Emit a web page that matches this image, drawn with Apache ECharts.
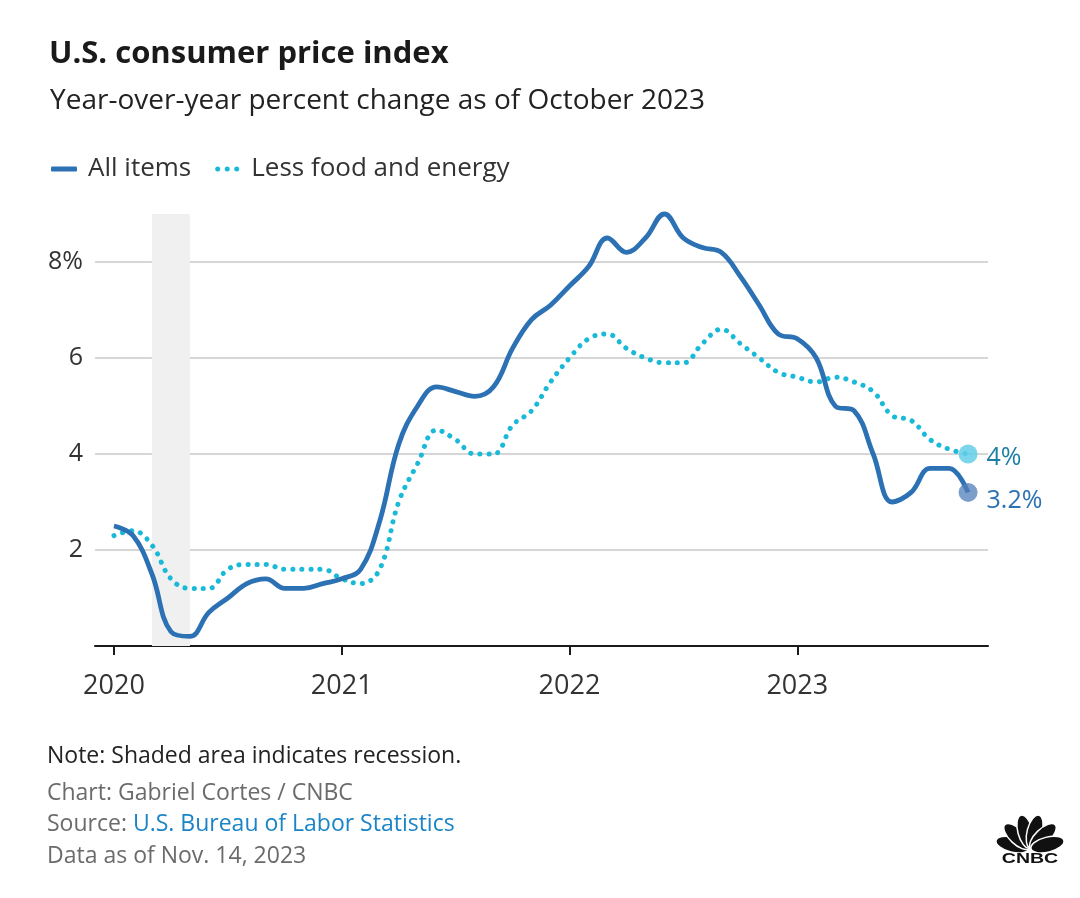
<!DOCTYPE html>
<html>
<head>
<meta charset="utf-8">
<title>U.S. consumer price index</title>
<script src="https://cdn.jsdelivr.net/npm/echarts@6/dist/echarts.min.js"></script>
<style>
  html, body { margin: 0; padding: 0; background: #fff; }
  #chart { width: 1080px; height: 898px; }
</style>
</head>
<body>
<div id="chart"></div>
<script>
// CPI year-over-year change, monthly Jan 2020 .. Oct 2023
// x is months since Jan 2020

const startYear = 2020;
const yearTicks = [2020, 2021, 2022, 2023];
const yTicks = [2, 4, 6, 8];

const allItems = [
    2.5, 2.3, 1.5, 0.3, 0.2, 0.7, 1.0, 1.3, 1.4, 1.2, 1.2, 1.3,
    1.4, 1.6, 2.6, 4.2, 5.0, 5.4, 5.3, 5.2, 5.4, 6.2, 6.8, 7.1,
    7.5, 7.9, 8.5, 8.2, 8.5, 9.0, 8.5, 8.3, 8.2, 7.7, 7.1, 6.5,
    6.4, 6.0, 5.0, 4.9, 4.0, 3.0, 3.2, 3.7, 3.7, 3.2
];

const lessFoodEnergy = [
    2.3, 2.4, 2.1, 1.4, 1.2, 1.2, 1.6, 1.7, 1.7, 1.6, 1.6, 1.6,
    1.4, 1.3, 1.6, 3.0, 3.8, 4.5, 4.3, 4.0, 4.0, 4.6, 4.9, 5.5,
    6.0, 6.4, 6.5, 6.2, 6.0, 5.9, 5.9, 6.3, 6.6, 6.3, 6.0, 5.7,
    5.6, 5.5, 5.6, 5.5, 5.3, 4.8, 4.7, 4.3, 4.1, 4.0
];

// recession shading, Mar 2020 .. May 2020 (month index)
const recession = [2, 4];

const fontFamily = 'Open Sans';

function monthIndex(year) {
    return (year - startYear) * 12;
}

// Turn a list of monthly values into [month, value] pairs; mark the last one
function toSeriesData(values, dotColor, labelText, labelColor, labelDy) {
    return values.map((v, i) => {
        if (i < values.length - 1) return [i, v];
        return {
            value: [i, v],
            symbol: 'circle',
            symbolSize: 19,
            itemStyle: { color: dotColor },
            label: {
                show: true,
                position: 'right',
                distance: 9,
                offset: [0, labelDy],
                formatter: labelText,
                fontSize: 25,
                color: labelColor,
                fontFamily: fontFamily
            }
        };
    });
}

const chart = echarts.init(document.getElementById('chart'));

const tickValues = yearTicks.map(monthIndex);

// three dots for the core legend icon
const dotsIcon = 'path://M0,2.5a2.5,2.5 0 1,0 5,0a2.5,2.5 0 1,0 -5,0Z' +
    'M9.5,2.5a2.5,2.5 0 1,0 5,0a2.5,2.5 0 1,0 -5,0Z' +
    'M19,2.5a2.5,2.5 0 1,0 5,0a2.5,2.5 0 1,0 -5,0Z';

// peacock feathers for the logo
const featherAngles = [-76, -46, -15, 15, 46, 76];

const option = {
    backgroundColor: '#ffffff',
    animation: false,
    textStyle: { fontFamily: fontFamily },
    title: [
        {
            text: 'U.S. consumer price index',
            left: 44,
            top: 34,
            textStyle: { fontSize: 31, fontWeight: 'bold', color: '#1a1a1a', fontFamily: fontFamily }
        },
        {
            text: 'Year-over-year percent change as of October 2023',
            left: 45,
            top: 82,
            textStyle: { fontSize: 28, fontWeight: 'normal', color: '#222', fontFamily: fontFamily }
        }
    ],
    legend: {
        left: 46,
        top: 151,
        itemWidth: 26,
        itemHeight: 5,
        itemGap: 24,
        textStyle: { fontSize: 26, color: '#333', fontFamily: fontFamily, padding: [0, 0, 0, 6] },
        data: [
            { name: 'All items', icon: 'roundRect', itemStyle: { color: '#2c71b3' } },
            { name: 'Less food and energy', icon: dotsIcon, itemStyle: { color: '#19b9d8' } }
        ]
    },
    grid: {
        left: 95,
        right: 92,
        top: 166,
        bottom: 252,
        containLabel: false
    },
    xAxis: {
        type: 'value',
        min: -1,
        max: 46.05,
        axisLine: { show: true, onZero: false, lineStyle: { color: '#1a1a1a', width: 2 } },
        axisTick: {
            show: true,
            length: 9,
            lineStyle: { color: '#1a1a1a', width: 2 },
            customValues: tickValues
        },
        axisLabel: {
            fontSize: 27,
            color: '#333',
            margin: 27,
            customValues: tickValues,
            formatter: v => String(startYear + Math.round(v / 12))
        },
        splitLine: { show: false }
    },
    yAxis: {
        type: 'value',
        min: 0,
        max: 10,
        interval: 2,
        axisLine: { show: false },
        axisTick: { show: false },
        axisLabel: {
            fontSize: 25,
            color: '#333',
            margin: 12,
            formatter: v => {
                if (!yTicks.includes(v)) return '';
                return v === 8 ? '8%' : String(v);
            }
        },
        splitLine: {
            show: true,
            lineStyle: {
                color: ['transparent', '#d6d6d6', '#d6d6d6', '#d6d6d6', '#d6d6d6', 'transparent'],
                width: 2
            }
        }
    },
    series: [
        {
            name: 'Less food and energy',
            type: 'line',
            smooth: 0.4,
            showSymbol: true,
            symbol: 'none',
            color: '#19b9d8',
            lineStyle: { color: '#19b9d8', width: 5, type: [0.1, 9], cap: 'round' },
            data: toSeriesData(lessFoodEnergy, 'rgba(100, 206, 232, 0.85)', '4%', '#1b7fa6', 4),
            z: 3
        },
        {
            name: 'All items',
            type: 'line',
            smooth: 0.4,
            showSymbol: true,
            symbol: 'none',
            color: '#2c71b3',
            lineStyle: { color: '#2c71b3', width: 4.8 },
            data: toSeriesData(allItems, 'rgba(80, 125, 185, 0.75)', '3.2%', '#2c71b3', 8),
            markArea: {
                silent: true,
                itemStyle: { color: '#f0f0f0' },
                data: [[
                    { xAxis: recession[0], yAxis: 9 },
                    { xAxis: recession[1], yAxis: 0 }
                ]]
            },
            z: 4
        }
    ],
    graphic: [
        {
            type: 'text',
            left: 47,
            top: 745,
            style: { text: 'Note: Shaded area indicates recession.', fontSize: 23, fill: '#222', fontFamily: fontFamily }
        },
        {
            type: 'text',
            left: 47,
            top: 782,
            style: { text: 'Chart: Gabriel Cortes / CNBC', fontSize: 23, fill: '#6b6b6b', fontFamily: fontFamily }
        },
        {
            type: 'text',
            left: 47,
            top: 813,
            style: {
                text: '{g|Source: }{b|U.S. Bureau of Labor Statistics}',
                fontSize: 23,
                fontFamily: fontFamily,
                rich: {
                    g: { fontSize: 23, fill: '#6b6b6b', fontFamily: fontFamily },
                    b: { fontSize: 23, fill: '#1a84c7', fontFamily: fontFamily }
                }
            }
        },
        {
            type: 'text',
            left: 47,
            top: 845,
            style: { text: 'Data as of Nov. 14, 2023', fontSize: 23, fill: '#6b6b6b', fontFamily: fontFamily }
        },
        // CNBC peacock logo
        {
            type: 'group',
            x: 998,
            y: 812,
            children: featherAngles.map(a => ({
                type: 'ellipse',
                shape: { cx: 32, cy: 19, rx: 7.5, ry: 17 },
                originX: 32,
                originY: 37,
                rotation: -a * Math.PI / 180,
                style: { fill: '#111', stroke: '#fff', lineWidth: 1.5 }
            })).concat([{
                type: 'text',
                x: 32,
                y: 39,
                scaleX: 1.3,
                originX: 0,
                style: {
                    text: 'CNBC',
                    fontSize: 15,
                    fontWeight: 'bold',
                    fill: '#111',
                    align: 'center',
                    fontFamily: 'Liberation Sans'
                }
            }])
        }
    ]
};

chart.setOption(option);

window.addEventListener('resize', () => chart.resize());
</script>
</body>
</html>
